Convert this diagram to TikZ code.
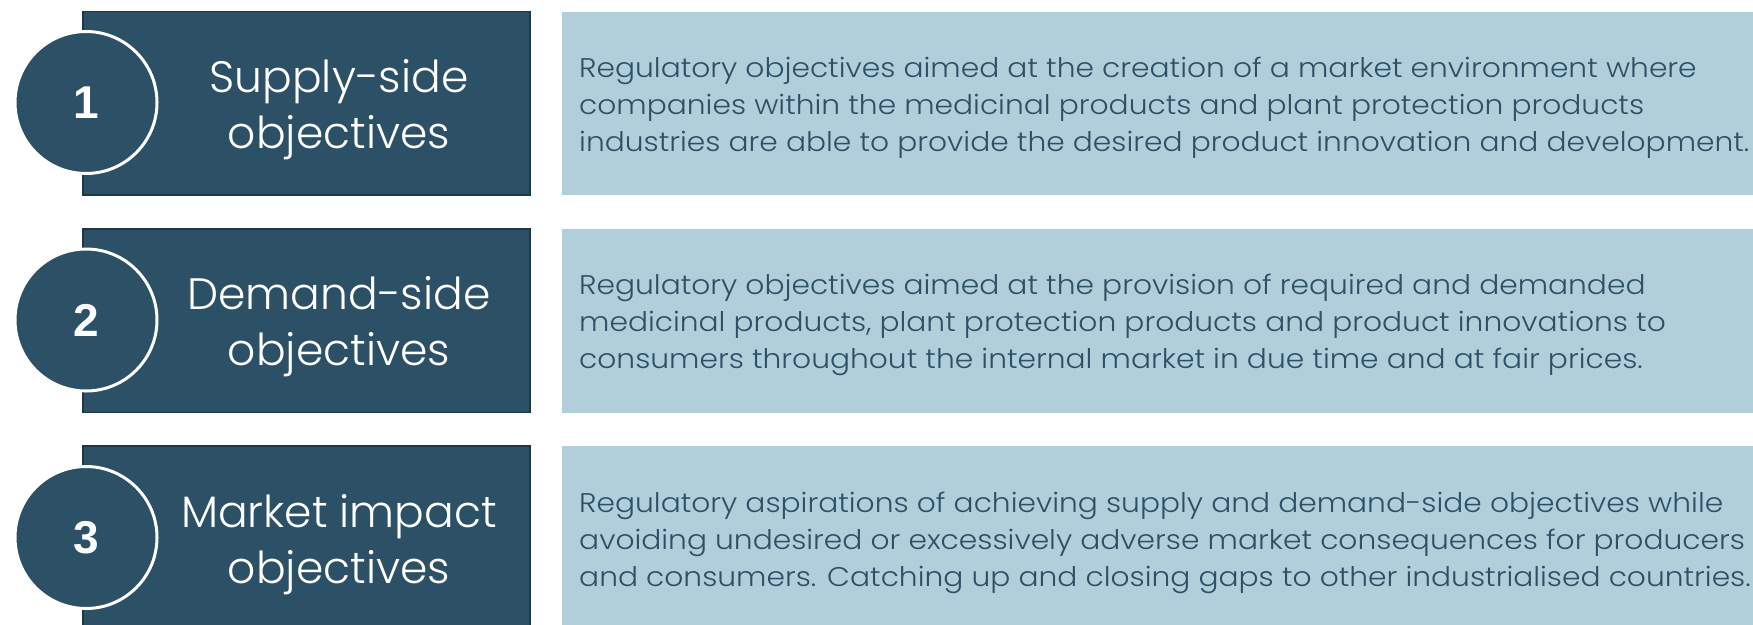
\documentclass[tikz,border=0pt]{standalone}
\usepackage{fontspec}
\setmainfont{Poppins}[UprightFont={* Light},BoldFont={* Medium}]
\newfontfamily\descfont{Poppins}[UprightFont={* Light},FakeStretch=1.1]
\newfontfamily\numfont{Liberation Sans}
\definecolor{darkblue}{RGB}{44,80,102}
\definecolor{darkborder}{RGB}{30,54,70}
\definecolor{lightblue}{RGB}{176,207,219}
\begin{document}
\begin{tikzpicture}[x=1pt,y=-1pt,
  darkbox/.style={draw=darkborder,line width=1.5pt,fill=darkblue,inner sep=0pt,outer sep=0pt,
    minimum width=447pt,minimum height=183.5pt,anchor=north west},
  lightbox/.style={fill=lightblue,inner sep=0pt,outer sep=0pt,
    minimum width=1200pt,minimum height=183.5pt,anchor=north west},
  numcircle/.style={circle,draw=white,line width=3pt,fill=darkblue,minimum size=142pt,inner sep=0pt,
    text=white,font=\numfont\bfseries\fontsize{46}{46}\selectfont},
  titletext/.style={text=white,align=center,inner sep=0pt,font=\fontsize{44}{56}\selectfont},
  desctext/.style={text=darkblue,align=left,inner sep=0pt,anchor=west,font=\descfont\fontsize{27}{37}\selectfont}]
\useasboundingbox (0,0) rectangle (1753,624);
% row 1
\node[darkbox] (d1) at (83,11.5) {};
\node[lightbox] (l1) at (562,11.5) {};
\node[numcircle] (c1) at (86,102.5) {1};
\node[titletext] (t1) at (339,109.5) {Supply-side\\objectives};
\node[desctext] (p1) at (579,107.5) {Regulatory objectives aimed at the creation of a market environment where\\companies within the medicinal products and plant protection products\\industries are able to provide the desired product innovation and development.};
% row 2
\node[darkbox] (d2) at (83,229) {};
\node[lightbox] (l2) at (562,229) {};
\node[numcircle] (c2) at (86,320) {2};
\node[titletext] (t2) at (339,327) {Demand-side\\objectives};
\node[desctext] (p2) at (579,325) {Regulatory objectives aimed at the provision of required and demanded\\medicinal products, plant protection products and product innovations to\\consumers throughout the internal market in due time and at fair prices.};
% row 3
\node[darkbox] (d3) at (83,446) {};
\node[lightbox] (l3) at (562,446) {};
\node[numcircle] (c3) at (86,537.5) {3};
\node[titletext] (t3) at (339,544.5) {Market impact\\objectives};
\node[desctext] (p3) at (579,542.5) {Regulatory aspirations of achieving supply and demand-side objectives while\\avoiding undesired or excessively adverse market consequences for producers\\and consumers. Catching up and closing gaps to other industrialised countries.};
\end{tikzpicture}
\end{document}
